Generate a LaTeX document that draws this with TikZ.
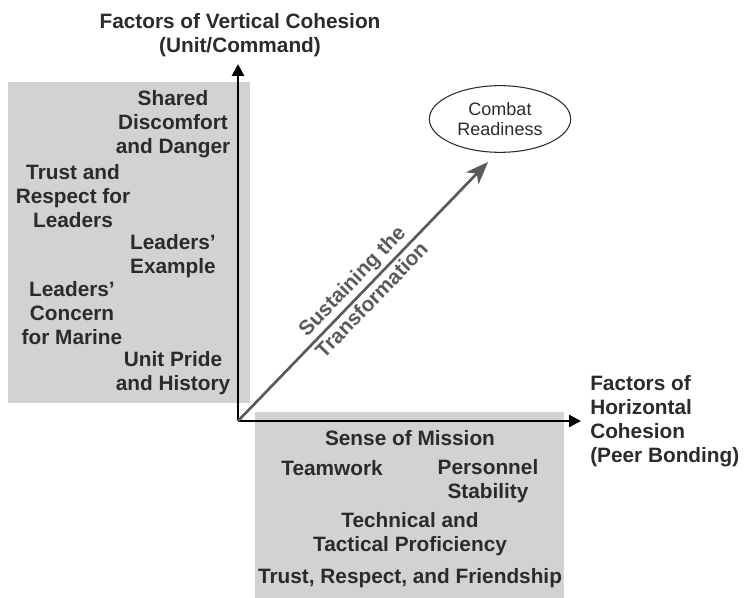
\documentclass[tikz,border=0pt]{standalone}
\usepackage{fontspec}
\setmainfont{Liberation Sans}
\usetikzlibrary{arrows.meta,shapes.geometric}
\definecolor{boxgray}{HTML}{D2D2D2}
\definecolor{inkgray}{HTML}{2B2B2B}
\definecolor{diaggray}{HTML}{5A5A5A}

\begin{document}
\begin{tikzpicture}[x=0.75pt,y=-0.75pt,text=inkgray,
                    font=\bfseries\fontsize{15.6}{18}\selectfont]
  \tikzstyle{factor}=[align=center,inner sep=0pt]
  \tikzstyle{axis}=[draw=black,line width=2pt,
                    -{Triangle[length=9pt,width=9pt]}]
  \useasboundingbox (0,0) rectangle (754,598);

  % shaded areas
  \fill[boxgray] (8,82) rectangle (250,403);
  \fill[boxgray] (255,412) rectangle (564,598);

  % axes
  \coordinate (origin) at (238,421);
  \coordinate (ytip) at (238,64);
  \coordinate (xtip) at (581,421);
  \coordinate (sustain) at (488,162);
  \draw[axis] (origin) -- (ytip);
  \draw[axis] (origin) -- (xtip);

  \node[factor] (vtitle) at (240,35) {Factors of Vertical Cohesion\\(Unit/Command)};
  \node[factor,align=left,anchor=west] (htitle) at (590,421)
       {Factors of\\Horizontal\\Cohesion\\(Peer Bonding)};

  % combat readiness
  \node[draw=inkgray,thick,ellipse,minimum width=106pt,minimum height=50pt,
        inner sep=0pt,align=center,font=\fontsize{13.5}{15}\selectfont]
       (readiness) at (500,119) {Combat\\Readiness};
  \draw[diaggray,line width=2pt,-{Stealth[length=17pt,width=13pt,inset=5pt]}]
       (origin) -- (sustain)
       node[pos=0.5,sloped,above=2pt,factor] (sustaintop) {Sustaining the}
       node[pos=0.5,sloped,below=2pt,factor] (sustainbot) {Transformation};

  % vertical factors
  \node[factor] (shared)  at (173,124) {Shared\\Discomfort\\and Danger};
  \node[factor] (trust)   at (73,196)  {Trust and\\Respect for\\Leaders};
  \node[factor] (example) at (173,256) {Leaders'\\Example};
  \node[factor] (concern) at (72,313)  {Leaders'\\Concern\\for Marine};
  \node[factor] (pride)   at (173,373) {Unit Pride\\and History};

  % horizontal factors
  \node[factor] (mission)   at (410,438) {Sense of Mission};
  \node[factor] (teamwork)  at (332,468) {Teamwork};
  \node[factor] (stability) at (488,481) {Personnel\\Stability};
  \node[factor] (technical) at (410,534) {Technical and\\Tactical Proficiency};
  \node[factor] (friends)   at (410,578) {Trust, Respect, and Friendship};
\end{tikzpicture}
\end{document}
